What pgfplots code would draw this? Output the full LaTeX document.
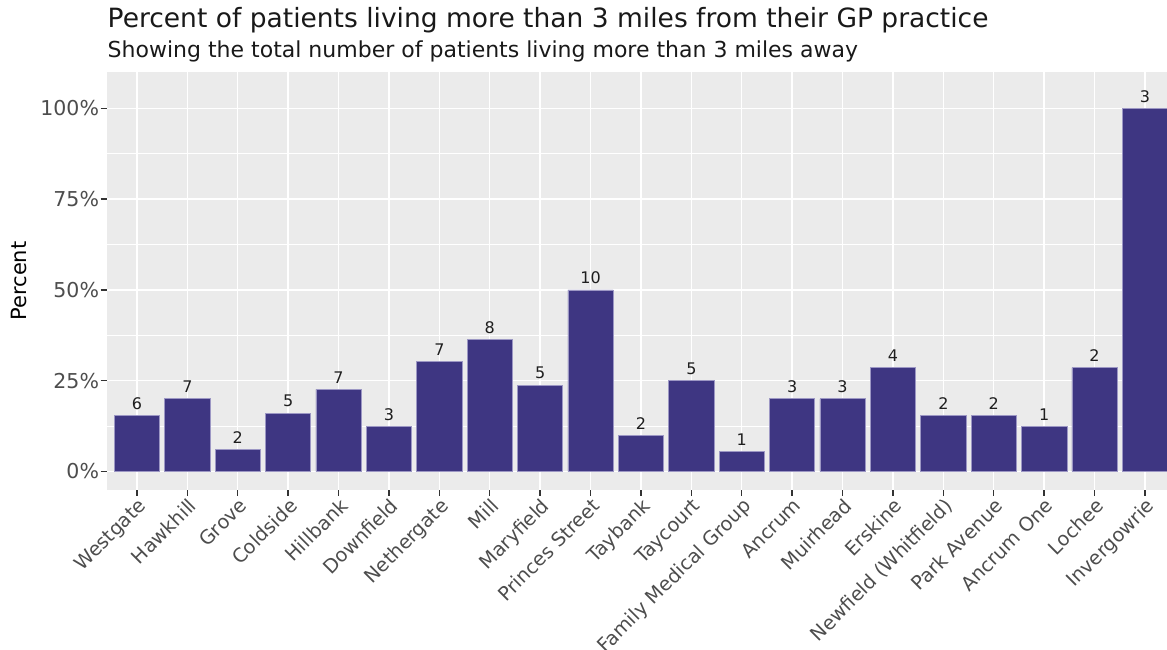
\documentclass[border=0pt]{standalone}
\usepackage{fontspec}
\setmainfont{DejaVu Sans}
\usepackage{pgfplots}
\pgfplotsset{compat=1.18}
\definecolor{panelgrey}{HTML}{EBEBEB}
\definecolor{barfill}{HTML}{3E3682}
\definecolor{barline}{HTML}{9C97C4}
\definecolor{ticktext}{HTML}{4D4D4D}
\definecolor{tickline}{HTML}{333333}
\newcommand{\fs}[1]{\fontsize{#1}{#1}\selectfont}

\begin{document}
\begin{tikzpicture}
\useasboundingbox (0,0) rectangle (1167pt,650pt);
\begin{axis}[
  at={(106.7pt,160pt)}, anchor=south west,
  scale only axis, width=1068.5pt, height=418pt,
  xmin=0.4, xmax=21.6, ymin=-5.1, ymax=110,
  clip=false,
  axis background/.style={fill=panelgrey},
  axis line style={draw=none},
  tick align=outside, tick pos=left,
  major tick length=6pt, minor tick length=0pt,
  tick style={tickline, line width=1.4pt},
  xtick={1,...,21},
  xticklabels={Westgate,Hawkhill,Grove,Coldside,Hillbank,Downfield,Nethergate,Mill,Maryfield,Princes Street,Taybank,Taycourt,Family Medical Group,Ancrum,Muirhead,Erskine,Newfield (Whitfield),Park Avenue,Ancrum One,Lochee,Invergowrie},
  xticklabel style={font=\fs{19.3}, text=ticktext, rotate=45, anchor=north east, inner sep=0.5pt},
  ytick={0,25,50,75,100},
  yticklabels={0\%,25\%,50\%,75\%,100\%},
  minor ytick={12.5,37.5,62.5,87.5},
  yticklabel style={font=\fs{20.5}, text=ticktext, inner sep=1.5pt},
  /pgf/number format/assume math mode=true,
  xmajorgrids, ymajorgrids, yminorgrids,
  major grid style={white, line width=1.4pt},
  minor grid style={white, line width=0.8pt},
  ylabel={Percent},
  every axis y label/.style={at={(rel axis cs:0,0.5)}, xshift=-87.7pt, rotate=90, anchor=center, font=\fs{21}, text=black},
  point meta=explicit symbolic,
  nodes near coords={\pgfplotspointmeta},
  nodes near coords style={font=\fs{16}, text=black!88, anchor=south, inner sep=0pt, yshift=5.5pt},
]
\addplot[ybar, bar width=0.9, bar shift=0pt, fill=barfill, draw=barline, line width=0.7pt]
  coordinates {
  (1,15.4) [6]
  (2,20.0) [7]
  (3,6.1) [2]
  (4,16.1) [5]
  (5,22.6) [7]
  (6,12.5) [3]
  (7,30.4) [7]
  (8,36.4) [8]
  (9,23.8) [5]
  (10,50.0) [10]
  (11,10.0) [2]
  (12,25.0) [5]
  (13,5.6) [1]
  (14,20.0) [3]
  (15,20.0) [3]
  (16,28.6) [4]
  (17,15.4) [2]
  (18,15.4) [2]
  (19,12.5) [1]
  (20,28.6) [2]
  (21,100.0) [3]
  };
\end{axis}
\node[anchor=base west, inner sep=0pt, font=\fs{26.5}, text=black!90] at (107.5pt,622pt)
  {Percent of patients living more than 3 miles from their GP practice};
\node[anchor=base west, inner sep=0pt, font=\fs{22}, text=black!90] at (107.5pt,592pt)
  {Showing the total number of patients living more than 3 miles away};
\end{tikzpicture}
\end{document}
